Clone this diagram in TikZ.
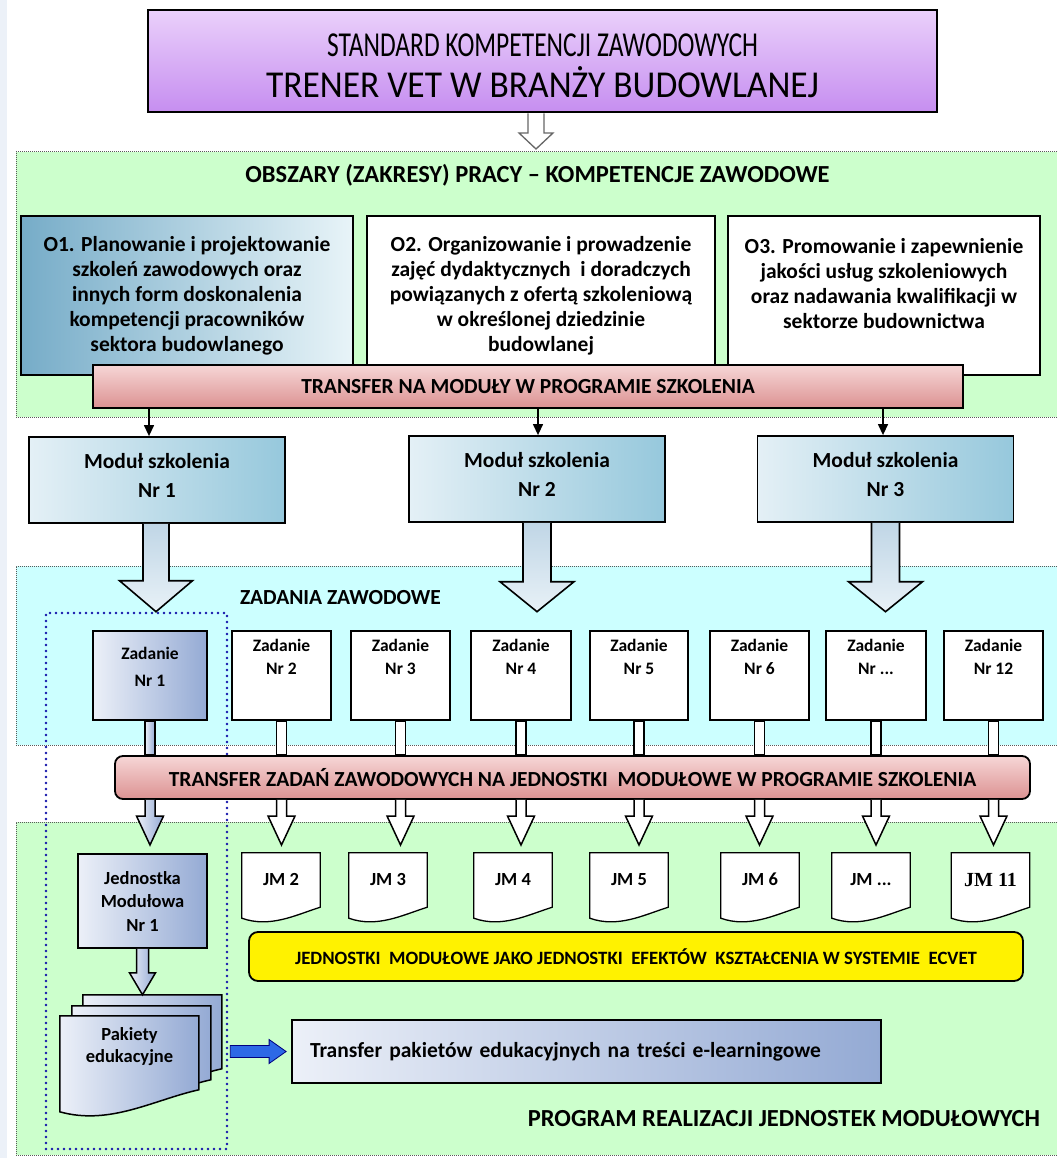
\documentclass[tikz,border=0pt]{standalone}
\usepackage{fontspec}
\usepackage{graphicx}
\setmainfont{Carlito}
\newfontfamily\jmserif{Liberation Serif}
\usetikzlibrary{calc,arrows.meta}
\pgfdeclarelayer{bg}
\pgfdeclarelayer{docs}
\pgfsetlayers{bg,docs,main}
\definecolor{areagreen}{RGB}{204,255,204}
\definecolor{areacyan}{RGB}{204,255,255}
\definecolor{purpleA}{RGB}{234,208,251}
\definecolor{purpleB}{RGB}{198,142,240}
\definecolor{tealA}{RGB}{118,172,200}
\definecolor{tealB}{RGB}{232,244,248}
\definecolor{modA}{RGB}{150,200,220}
\definecolor{modB}{RGB}{228,240,246}
\definecolor{pinkA}{RGB}{246,214,214}
\definecolor{pinkB}{RGB}{220,146,146}
\definecolor{steelA}{RGB}{148,170,212}
\definecolor{steelB}{RGB}{236,240,248}
\definecolor{arrowA}{RGB}{192,214,230}
\definecolor{arrowB}{RGB}{232,241,247}
\definecolor{dotblue}{RGB}{20,20,170}
\definecolor{bluearrow}{RGB}{45,105,230}
\definecolor{leftstrip}{RGB}{236,241,248}
\newcommand\blockdown[6]{\draw[#1] let \p1=#2, \p2=#3 in
  (\x1-#4pt,\y1) -- (\x1-#4pt,\y2+#6pt) -- (\x1-#5pt,\y2+#6pt) -- (\x1,\y2)
  -- (\x1+#5pt,\y2+#6pt) -- (\x1+#4pt,\y2+#6pt) -- (\x1+#4pt,\y1);}
\newcommand\jmdoc[1]{\path[docshape] (#1.north west) -- (#1.north east) -- (#1.south east)
  .. controls +(-25,8) and +(28,10) .. ($(#1.south west)+(0,11)$) -- cycle;}
\newcommand\pkpage[2]{\path[pageshape] ($(pk.north west)+(#1,#2)$) -- ++(139,0) -- ++(0,74)
  .. controls +(-45,10) and +(50,14) .. ++(-139,22) -- cycle;}
\newcommand\zshaft[2]{\draw[#1] ($(#2.south)+(-5,0)$) rectangle ($(#2.south |- tb2.north)+(5,0)$);}
\begin{document}
\begin{tikzpicture}[x=1pt,y=-1pt,
  every node/.style={inner sep=0pt, text=black},
  areaborder/.style={draw=black!65, dash pattern=on 1pt off 1pt, line width=1pt},
  bx/.style={draw=black, line width=1.8pt, align=center},
  titlebox/.style={bx, line width=2.6pt, top color=purpleA, bottom color=purpleB,
    minimum width=789pt, minimum height=102pt},
  obox/.style={bx, minimum height=159pt, font=\fontsize{21.5}{25}\selectfont\bfseries},
  tbar/.style={bx, top color=pinkA, bottom color=pinkB, minimum height=43pt,
    font=\fontsize{21.5}{21.5}\selectfont\bfseries},
  modbox/.style={bx, left color=modB, right color=modA, minimum width=256pt, minimum height=86pt,
    text depth=10pt, font=\fontsize{21.5}{29}\selectfont\bfseries},
  zbox/.style={bx, fill=white, minimum width=99pt, minimum height=89pt},
  zlab/.style={anchor=north, align=center, yshift=-9pt, font=\fontsize{17.5}{23}\selectfont\bfseries},
  steelbox/.style={bx, left color=steelB, right color=steelA},
  jmn/.style={minimum width=78pt, minimum height=54pt, text height=11.9pt, text depth=0pt,
    font=\fontsize{18.5}{18.5}\selectfont\bfseries},
  docshape/.style={draw=black, line width=1.3pt, fill=white},
  pageshape/.style={draw=black, line width=1.5pt, left color=steelB, right color=steelA},
  hollow/.style={draw=black, line width=1.5pt, fill=white, line join=miter},
  hollowgray/.style={draw=black!60, line width=1.3pt, fill=white, line join=miter},
  bigarr/.style={draw=black, line width=1.6pt, top color=arrowA, bottom color=arrowB, line join=miter},
  steelarr/.style={draw=black, line width=1.5pt, left color=steelB, right color=steelA, line join=miter},
  thinarr/.style={draw=black, line width=1.3pt, -{Triangle[length=11pt,width=10pt]}},
  arealabel/.style={font=\bfseries}
]
\useasboundingbox (0,0) rectangle (1057,1158);

% ---------------- background and areas
\begin{pgfonlayer}{bg}
\fill[white] (0,0) rectangle (1057,1158);
\fill[leftstrip] (0,0) rectangle (7,1158);
\fill[areagreen] (16,152) rectangle (1057,417);
\draw[areaborder] (1057,152) -- (16,152) -- (16,417) -- (1057,417);
\fill[areacyan] (16,566) rectangle (1057,745);
\draw[areaborder] (1057,566) -- (16,566) -- (16,745) -- (1057,745);
\fill[areagreen] (16,822) rectangle (1057,1155);
\draw[areaborder] (1057,822) -- (16,822) -- (16,1155) -- (1057,1155);
\end{pgfonlayer}

% ---------------- title
\node[titlebox,
  label={[name=tt1, yshift=16pt, font=\fontsize{35}{35}\selectfont]center:{\resizebox{431pt}{\height}{STANDARD KOMPETENCJI ZAWODOWYCH}}},
  label={[name=tt2, yshift=-21pt, font=\fontsize{38}{38}\selectfont]center:{\resizebox{553pt}{\height}{TRENER VET W BRANŻY BUDOWLANEJ}}}]
  (title) at (542.5,61) {};
\coordinate (t1tip) at (536,149);
\blockdown{hollowgray}{($(title.south)+(-6.5,0)$)}{(t1tip)}{8}{17}{16}

\node[arealabel, font=\fontsize{24.5}{24.5}\selectfont\bfseries] (lab1) at (537.5,175)
  {OBSZARY (ZAKRESY) PRACY – KOMPETENCJE ZAWODOWE};

% ---------------- O boxes
\node[obox, minimum width=332pt, line width=2.6pt, left color=tealA, right color=tealB] (o1) at (187,295.5)
  {O1. Planowanie i projektowanie\\szkoleń zawodowych\ oraz\\innych form doskonalenia\\kompetencji pracowników\\sektora budowlanego};
\node[obox, minimum width=348pt, fill=white] (o2) at (541,295.5)
  {O2. Organizowanie i prowadzenie\\zajęć dydaktycznych\ \ i doradczych\\powiązanych\ z ofertą szkoleniową\\w określonej dziedzinie\\budowlanej};
\node[obox, minimum width=312pt, fill=white] (o3) at (884,295.5)
  {O3. Promowanie i zapewnienie\\jakości usług szkoleniowych\\oraz nadawania\ kwalifikacji w\\sektorze budownictwa\\\mbox{}};

\node[tbar, minimum width=870pt] (tb1) at (528,386.5) {TRANSFER NA MODUŁY W PROGRAMIE SZKOLENIA};

% ---------------- modules
\node[modbox] (m1) at (157,480) {Moduł szkolenia\\Nr 1};
\node[modbox] (m2) at (537,479) {Moduł szkolenia\\Nr 2};
\node[modbox] (m3) at (885.5,479) {Moduł szkolenia\\Nr 3};
\draw[thinarr] ($(tb1.south -| m1.north)+(-8,0)$) -- ($(m1.north)+(-8,0)$);
\draw[thinarr] ($(tb1.south -| m2.north)+(1,0)$) -- ($(m2.north)+(1,0)$);
\draw[thinarr] ($(tb1.south -| m3.north)+(-2.5,0)$) -- ($(m3.north)+(-2.5,0)$);

\node[arealabel, font=\fontsize{21.5}{21.5}\selectfont\bfseries] (lab2) at (340.5,598) {ZADANIA ZAWODOWE};

% dotted group
\node[draw=dotblue, line width=2.6pt, dash pattern=on 0pt off 6pt, line cap=round,
  minimum width=181pt, minimum height=536pt] (grp) at (136.5,881) {};

\blockdown{bigarr}{($(m1.south)+(-1,0)$)}{(grp.north)}{13}{36.5}{31}
\blockdown{bigarr}{(m2.south)}{(grp.north)}{14}{37}{30}
\blockdown{bigarr}{(m3.south)}{(grp.north)}{14}{37}{30}

% ---------------- tasks
\node[zbox, left color=steelB, right color=steelA, minimum width=114pt,
  label={[zlab, yshift=-8pt, font=\fontsize{17.5}{27}\selectfont\bfseries]north:{Zadanie\\Nr 1}}] (z1) at (150,675.5) {};
\node[zbox, label={[zlab]north:{Zadanie\\Nr 2}}] (z2) at (281.5,675.5) {};
\node[zbox, label={[zlab]north:{Zadanie\\Nr 3}}] (z3) at (400.5,675.5) {};
\node[zbox, minimum width=100pt, label={[zlab]north:{Zadanie\\Nr 4}}] (z4) at (521,675.5) {};
\node[zbox, minimum width=98pt, label={[zlab]north:{Zadanie\\Nr 5}}] (z5) at (639,675.5) {};
\node[zbox, label={[zlab]north:{Zadanie\\Nr 6}}] (z6) at (759.5,675.5) {};
\node[zbox, minimum width=100pt, label={[zlab]north:{Zadanie\\Nr ...}}] (z7) at (876,675.5) {};
\node[zbox, label={[zlab]north:{Zadanie\\Nr 12}}] (z12) at (993.5,675.5) {};

\node[tbar, rounded corners=8pt, minimum width=915pt] (tb2) at (572.5,777.5)
  {TRANSFER ZADAŃ ZAWODOWYCH NA JEDNOSTKI\ \ MODUŁOWE W PROGRAMIE SZKOLENIA};

\begin{pgfonlayer}{docs}
\zshaft{steelarr}{z1}
\foreach \z in {z2,z3,z4,z5,z6,z7,z12} {\zshaft{hollow}{\z}}
\end{pgfonlayer}

\coordinate (jmtip) at (0,845);
\blockdown{steelarr}{(z1.south |- tb2.south)}{(jmtip)}{5}{13.5}{29}
\foreach \z in {z2,z3,z4,z5,z6,z7,z12} {\blockdown{hollow}{(\z.south |- tb2.south)}{(jmtip)}{5}{13.5}{29}}

% ---------------- modular units
\node[jmn] (jm2) at (281,880) {JM 2};
\node[jmn] (jm3) at (388,880) {JM 3};
\node[jmn] (jm4) at (513,880) {JM 4};
\node[jmn] (jm5) at (629,880) {JM 5};
\node[jmn] (jm6) at (760,880) {JM 6};
\node[jmn] (jm7) at (871,880) {JM ...};
\node[jmn, text height=13.2pt, font=\fontsize{20}{20}\selectfont\jmserif\bfseries] (jm11) at (990.5,880) {JM 11};

\node[bx, fill=yellow, rounded corners=9pt, minimum width=774pt, minimum height=49pt,
  font=\fontsize{18.8}{18.8}\selectfont\bfseries] (yb) at (636,956.5)
  {JEDNOSTKI\ \ MODUŁOWE JAKO JEDNOSTKI\ \ EFEKTÓW\ \ KSZTAŁCENIA W SYSTEMIE\ \ ECVET};

\node[steelbox, minimum width=129pt, minimum height=94pt, font=\fontsize{18.5}{23.5}\selectfont\bfseries]
  (jm1) at (142.5,901) {Jednostka\\Modułowa\\Nr 1};

\node[minimum width=139pt, minimum height=62pt, align=center, font=\fontsize{18.5}{22}\selectfont\bfseries]
  (pk) at (129.5,1047) {Pakiety\\edukacyjne};
\coordinate (backtop) at ($(pk.north west)+(23,-21)$);

\begin{pgfonlayer}{docs}
\foreach \j in {jm2,jm3,jm4,jm5,jm6,jm7,jm11} {\jmdoc{\j}}
\pkpage{23}{-21}
\pkpage{12}{-10}
\pkpage{0}{0}
\end{pgfonlayer}

\blockdown{steelarr}{(jm1.south)}{(backtop)}{6}{13}{22}

\node[steelbox, text width=553pt, inner xsep=18pt, minimum height=63pt, align=left,
  font=\fontsize{21.5}{21.5}\selectfont\bfseries] (tp) at (586.5,1051.5)
  {Transfer pakietów edukacyjnych na treści e-learningowe};

\draw[draw=blue!50!black, line width=0.8pt, fill=bluearrow] let \p1=(grp.east), \p2=(tp.west) in
  (\x1+2pt,\y2+6pt) -- (\x2-22pt,\y2+6pt) -- (\x2-22pt,\y2+12pt) -- (\x2-5pt,\y2)
  -- (\x2-22pt,\y2-12pt) -- (\x2-22pt,\y2-6pt) -- (\x1+2pt,\y2-6pt) -- cycle;

\node[arealabel, font=\fontsize{24.5}{24.5}\selectfont\bfseries] (lab3) at (784,1119)
  {PROGRAM REALIZACJI JEDNOSTEK MODUŁOWYCH};
\end{tikzpicture}
\end{document}
